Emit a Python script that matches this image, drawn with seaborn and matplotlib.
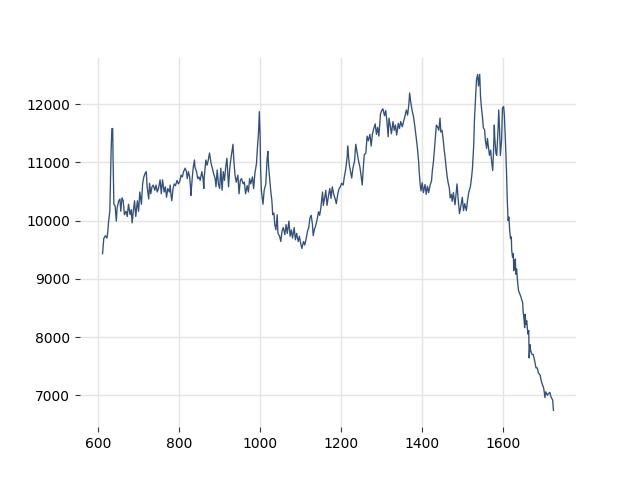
import numpy as np
import pandas as pd
import matplotlib
matplotlib.use("Agg")
import matplotlib.pyplot as plt
import seaborn as sns

# =========================
# DATOS (por tramos)
# =========================
x_a = [611, 614, 618, 622, 624, 626, 629, 632, 634, 636,
       637, 639, 642, 645, 647, 651, 654, 656, 659, 662,
       665, 669, 672, 675, 679, 682, 684, 687, 690, 693,
       697, 700, 703, 707, 710, 713, 716, 719, 721, 725,
       727, 730, 733, 736, 740, 743, 746, 749, 753, 756,
       759, 763, 766, 769, 772, 776, 778]
y_a = [9430, 9690, 9740, 9700, 9810, 9990, 10160, 11160, 11580, 11580,
       11050, 10280, 10250, 9990, 10220, 10340, 10370, 10160, 10390, 10340,
       10100, 10160, 10070, 10280, 10100, 10190, 9960, 10160, 10340, 10070,
       10340, 10160, 10490, 10280, 10640, 10750, 10810, 10840, 10580, 10370,
       10640, 10460, 10580, 10610, 10520, 10610, 10490, 10550, 10700, 10460,
       10700, 10490, 10580, 10400, 10550, 10490, 10610]

x_b = [780, 782, 785, 788, 791, 795, 798, 801, 805, 808,
       811, 815, 818, 820, 823, 826, 828, 829, 833, 835,
       838, 839, 843, 846, 849, 852, 856, 859, 861, 862,
       866, 869, 872, 875, 879, 882, 885, 889, 891, 894,
       897, 900, 903, 906, 909, 912, 915, 918, 922, 925,
       928, 931, 933, 935, 938, 941, 945, 948]
y_b = [10430, 10340, 10550, 10630, 10600, 10690, 10630, 10660, 10780, 10750,
       10840, 10900, 10840, 10720, 10840, 10750, 10580, 10430, 10780, 10920,
       11040, 10920, 10840, 10720, 10750, 10690, 10840, 10720, 10550, 10750,
       11040, 10950, 11040, 11160, 10980, 10900, 10810, 10720, 10580, 10870,
       10630, 10550, 10900, 10520, 10840, 10690, 10920, 11070, 10580, 10900,
       11070, 11220, 11310, 11040, 10780, 10660, 10780, 10460]

x_c = [951, 954, 958, 961, 964, 968, 971, 974, 977, 981,
       984, 987, 991, 993, 996, 998, 1000, 1001, 1003, 1006,
       1007, 1010, 1014, 1017, 1019, 1021, 1024, 1026, 1029, 1031,
       1034, 1036, 1039, 1042, 1044, 1048, 1051, 1054, 1057, 1061,
       1064, 1067, 1071, 1074, 1077, 1080, 1084, 1087, 1090, 1094,
       1097, 1100, 1103, 1107, 1110, 1113, 1117, 1120, 1123, 1126]
y_c = [10690, 10720, 10630, 10660, 10460, 10600, 10490, 10720, 10630, 10750,
       10550, 10810, 10980, 11220, 11510, 11870, 11450, 10920, 10520, 10340,
       10280, 10520, 10630, 11040, 11190, 10920, 10690, 10520, 10340, 10100,
       10130, 9930, 9840, 10100, 9780, 9730, 9640, 9820, 9880, 9760,
       9930, 9780, 9990, 9730, 9840, 9700, 9880, 9670, 9780, 9640,
       9730, 9610, 9520, 9640, 9580, 9670, 9820, 9880, 10050, 10090]

x_d = [1129, 1131, 1134, 1137, 1141, 1144, 1147, 1150, 1154, 1156,
       1159, 1162, 1165, 1169, 1172, 1175, 1178, 1182, 1185, 1188,
       1192, 1195, 1198, 1201, 1205, 1208, 1211, 1215, 1216, 1220,
       1223, 1226, 1229, 1233, 1236, 1239, 1243, 1246, 1249, 1252,
       1254, 1257, 1261, 1264, 1267, 1271, 1274, 1277, 1280, 1284,
       1287, 1290, 1293, 1297, 1300, 1303, 1307, 1310]
y_d = [9940, 9740, 9850, 9910, 10030, 10150, 10090, 10230, 10490, 10260,
       10380, 10520, 10260, 10440, 10550, 10380, 10580, 10440, 10380, 10290,
       10470, 10550, 10580, 10640, 10610, 10760, 10870, 11100, 11280, 10960,
       10840, 10730, 10900, 11020, 11310, 11190, 11020, 10930, 10780, 10610,
       10840, 11130, 11160, 11450, 11370, 11480, 11280, 11480, 11570, 11660,
       11480, 11600, 11450, 11830, 11890, 11920, 11800, 11890]

x_e = [1313, 1316, 1318, 1321, 1324, 1328, 1331, 1334, 1337, 1341,
       1344, 1347, 1351, 1354, 1357, 1361, 1364, 1367, 1369, 1372,
       1375, 1379, 1382, 1385, 1388, 1391, 1393, 1395, 1397, 1400,
       1403, 1407, 1410, 1413, 1416, 1420, 1423, 1425, 1428, 1430,
       1433, 1435, 1438, 1441, 1444, 1446, 1449, 1452, 1454, 1457,
       1459, 1462, 1464, 1467, 1469, 1472, 1474, 1477, 1481]
y_e = [11700, 11440, 11760, 11640, 11490, 11700, 11550, 11640, 11470, 11670,
       11580, 11700, 11610, 11700, 11780, 11900, 11810, 11990, 12190, 12020,
       11900, 11760, 11610, 11440, 11260, 11030, 10800, 10620, 10510, 10650,
       10480, 10620, 10450, 10590, 10480, 10620, 10680, 10850, 11030, 11200,
       11440, 11640, 11610, 11550, 11760, 11520, 11550, 11380, 11230, 11060,
       10910, 10740, 10650, 10560, 10390, 10450, 10330, 10480, 10270]

x_f = [1486, 1489, 1492, 1495, 1499, 1502, 1505, 1509, 1512, 1515,
       1519, 1522, 1524, 1527, 1529, 1532, 1534, 1537, 1539, 1542,
       1544, 1546, 1549, 1551, 1554, 1556, 1559, 1561, 1564, 1566,
       1569, 1571, 1574, 1576, 1578, 1579, 1582, 1584, 1587, 1589,
       1591, 1593, 1596, 1598, 1601, 1603, 1606]
y_f = [10630, 10350, 10120, 10230, 10400, 10170, 10290, 10170, 10350, 10490,
       10580, 10750, 10890, 11270, 11730, 12130, 12420, 12510, 12310, 12510,
       12130, 11960, 11760, 11590, 11560, 11380, 11240, 11410, 11240, 11120,
       11210, 11040, 10860, 11180, 11640, 11440, 11150, 11120, 11530, 11900,
       11560, 11120, 11380, 11930, 11960, 11790, 11270]

x_g = [1608, 1610, 1612, 1614, 1616, 1618, 1620, 1621, 1623, 1625,
       1626, 1628, 1630, 1631, 1633, 1636, 1638, 1641, 1644, 1648,
       1649, 1651, 1653, 1654, 1656, 1658, 1661, 1663, 1664, 1666,
       1668, 1671, 1674, 1677, 1681, 1684, 1687, 1691, 1694, 1697,
       1700, 1703, 1705, 1709, 1712, 1715, 1718, 1722, 1724]
y_g = [10870, 10350, 10000, 10060, 9830, 9690, 9720, 9490, 9370, 9430,
       9140, 9260, 9340, 9080, 9170, 8910, 8790, 8740, 8680, 8590,
       8450, 8330, 8160, 8390, 8220, 8280, 8050, 8110, 7640, 7870,
       7760, 7700, 7700, 7610, 7470, 7470, 7380, 7350, 7240, 7180,
       7120, 6960, 7060, 7000, 7030, 7050, 6970, 6920, 6740]

# =========================
# UNIR TRAMOS
# =========================
tramos_x = [x_a, x_b, x_c, x_d, x_e, x_f, x_g]
tramos_y = [y_a, y_b, y_c, y_d, y_e, y_f, y_g]
for tx, ty in zip(tramos_x, tramos_y):
    if len(tx) != len(ty):
        raise ValueError(f"Tramo mal: {len(tx)} vs {len(ty)} (empieza en {tx[0]})")

df = pd.DataFrame({
    "x": np.concatenate(tramos_x),
    "y": np.concatenate(tramos_y),
})

# =========================
# FIGURA
# =========================
fig, ax = plt.subplots(figsize=(6.4, 4.8), dpi=100)
sns.lineplot(data=df, x="x", y="y", ax=ax, color="#33507a", linewidth=0.95, sort=False)

ax.grid(True, color="#e5e5e5", linewidth=1.0)
ax.set_axisbelow(True)
sns.despine(ax=ax, left=True, bottom=True)
ax.tick_params(colors="#333333", labelcolor="black")
ax.set_xlabel("")
ax.set_ylabel("")
ax.set_xticks([600, 800, 1000, 1200, 1400, 1600])

plt.savefig("out.png", dpi=100)
